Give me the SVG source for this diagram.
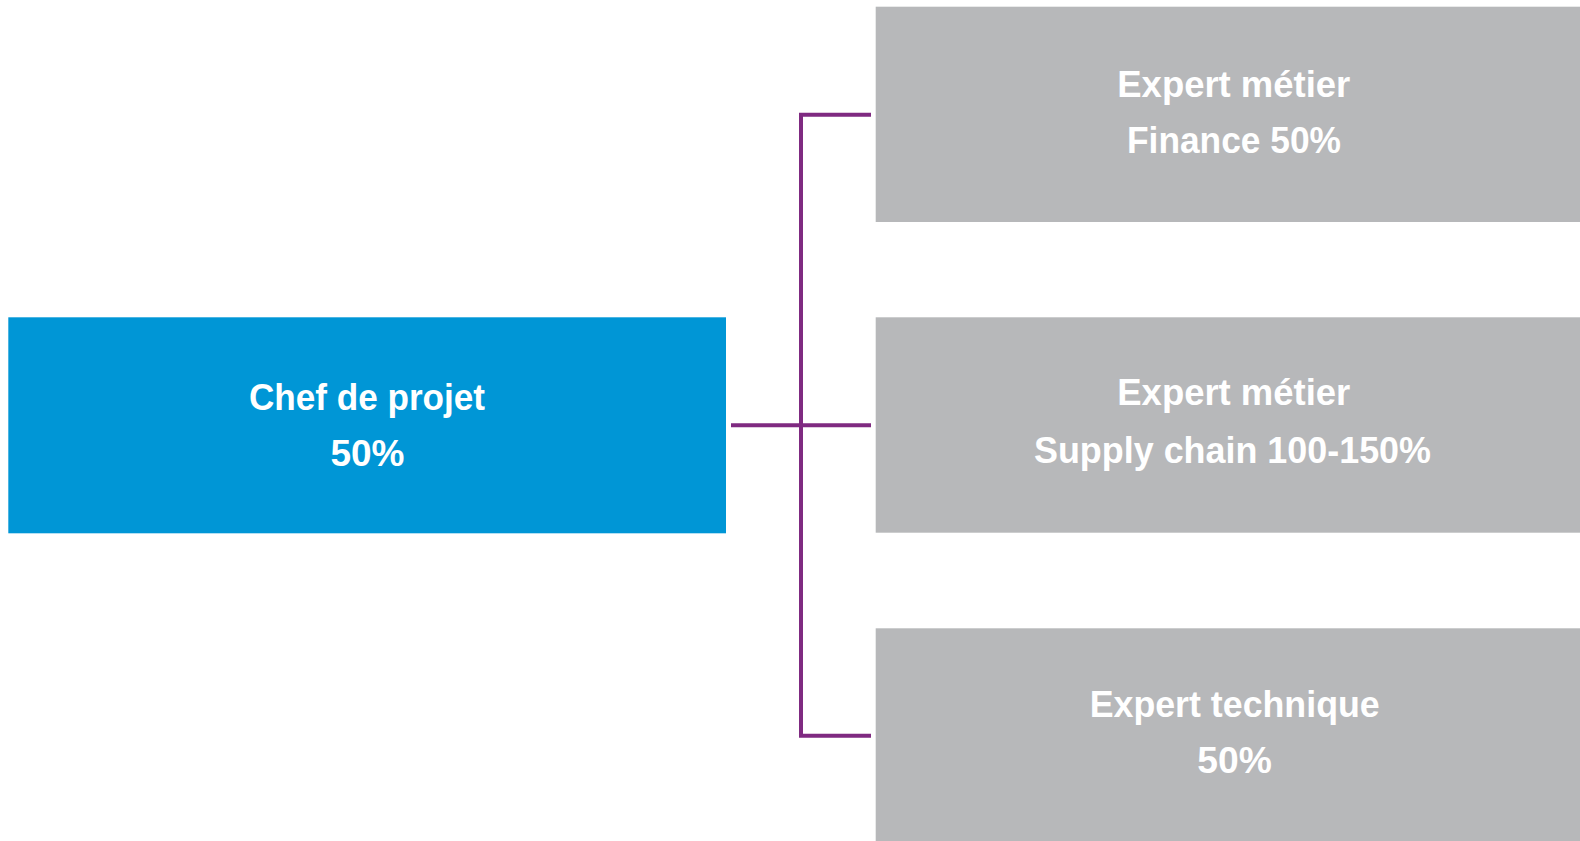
<svg xmlns="http://www.w3.org/2000/svg" width="1580" height="841" viewBox="0 0 1580 841">
<style>
.lbl{font-family:"Liberation Sans",Arial,sans-serif;font-weight:bold;font-size:36px;fill:#ffffff}
.gray{fill:#B7B8BA}
.conn{fill:none;stroke:#7F2A81;stroke-width:4}
</style>
<rect width="1580" height="841" fill="#ffffff"/>
<g id="connectors">
<path class="conn" d="M871,114.7 H801 V735.7 H871"/>
<path class="conn" d="M731,425.3 H871"/>
</g>
<g id="chef">
<rect x="8.3" y="317.3" width="717.7" height="216" fill="#0096D6"/>
<text class="lbl" x="249" y="410" textLength="236" lengthAdjust="spacingAndGlyphs">Chef de projet</text>
<text class="lbl" x="330.5" y="465.7" textLength="74" lengthAdjust="spacingAndGlyphs">50%</text>
</g>
<g id="expert-finance">
<rect class="gray" x="875.7" y="6.7" width="704.3" height="215.3"/>
<text class="lbl" x="1117.3" y="96.7" textLength="233" lengthAdjust="spacingAndGlyphs">Expert métier</text>
<text class="lbl" x="1127" y="153.3" textLength="214" lengthAdjust="spacingAndGlyphs">Finance 50%</text>
</g>
<g id="expert-supply">
<rect class="gray" x="875.7" y="317.3" width="704.3" height="215.4"/>
<text class="lbl" x="1117.3" y="405" textLength="233" lengthAdjust="spacingAndGlyphs">Expert métier</text>
<text class="lbl" x="1034" y="463.3" textLength="397" lengthAdjust="spacingAndGlyphs">Supply chain 100-150%</text>
</g>
<g id="expert-technique">
<rect class="gray" x="875.7" y="628.3" width="704.3" height="212.7"/>
<text class="lbl" x="1089.7" y="716.7" textLength="290" lengthAdjust="spacingAndGlyphs">Expert technique</text>
<text class="lbl" x="1197.3" y="773.3" textLength="74.5" lengthAdjust="spacingAndGlyphs">50%</text>
</g>
</svg>
